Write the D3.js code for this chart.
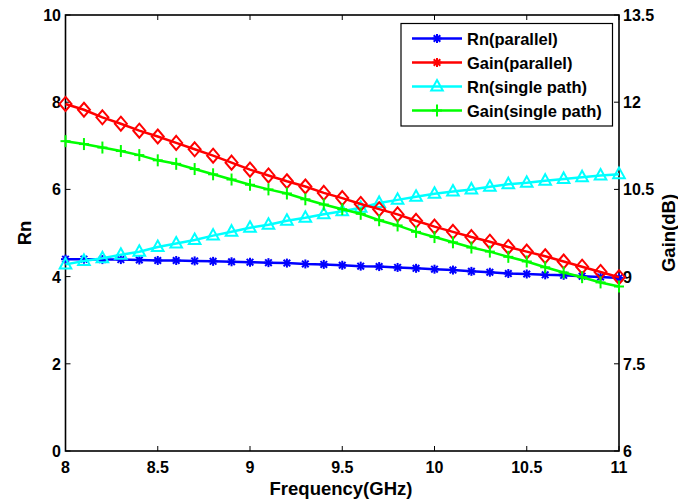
<!DOCTYPE html>
<html><head><meta charset="utf-8">
<script src="https://cdn.jsdelivr.net/npm/d3@7"></script>
<style>body{margin:0;background:#fff}svg{display:block}text{font-family:"Liberation Sans",Arial,sans-serif;font-weight:bold;fill:#000}</style>
</head><body>
<script>
const freq = [8.0,8.1,8.2,8.3,8.4,8.5,8.6,8.7,8.8,8.9,9.0,9.1,9.2,9.3,9.4,9.5,9.6,9.7,9.8,9.9,10.0,10.1,10.2,10.3,10.4,10.5,10.6,10.7,10.8,10.9,11.0];
const rnParallel = [4.40,4.40,4.39,4.39,4.38,4.37,4.37,4.36,4.35,4.34,4.33,4.32,4.31,4.29,4.28,4.26,4.24,4.23,4.21,4.19,4.17,4.15,4.12,4.10,4.07,4.06,4.04,4.03,4.01,3.99,3.97];
const gainParallel = [11.97,11.87,11.74,11.63,11.51,11.41,11.30,11.19,11.08,10.96,10.84,10.74,10.64,10.55,10.44,10.35,10.25,10.16,10.07,9.96,9.86,9.77,9.68,9.60,9.51,9.43,9.35,9.26,9.17,9.08,8.99];
const rnSingle = [4.28,4.36,4.42,4.50,4.57,4.68,4.76,4.84,4.94,5.03,5.12,5.19,5.28,5.35,5.43,5.50,5.58,5.69,5.76,5.83,5.90,5.95,6.00,6.06,6.12,6.15,6.20,6.24,6.28,6.32,6.35];
const gainSingle = [11.33,11.28,11.22,11.16,11.09,11.00,10.94,10.85,10.76,10.67,10.58,10.50,10.43,10.33,10.24,10.16,10.08,9.97,9.88,9.77,9.68,9.59,9.50,9.43,9.34,9.26,9.16,9.07,8.99,8.90,8.83];
const xTicks = [8,8.5,9,9.5,10,10.5,11];
const xTickLabels = ["8","8.5","9","9.5","10","10.5","11"];
const yLeftTicks = [0,2,4,6,8,10];
const yRightTicks = [6,7.5,9,10.5,12,13.5];
const yRightTickLabels = ["6","7.5","9","10.5","12","13.5"];
const legendLabels = ["Rn(parallel)","Gain(parallel)","Rn(single path)","Gain(single path)"];

const W=678,H=503;
const L=65.5,R=619,T=15,B=451;
const svg=d3.select("body").append("svg").attr("width",W).attr("height",H);
const x=d3.scaleLinear().domain([8,11]).range([L,R]);
const yL=d3.scaleLinear().domain([0,10]).range([B,T]);
const yR=d3.scaleLinear().domain([6,13.5]).range([B,T]);

// frame
svg.append("rect").attr("x",L).attr("y",T).attr("width",R-L).attr("height",B-T)
  .attr("fill","none").attr("stroke","#000").attr("stroke-width",1.6);

const tk=5;
const g=svg.append("g").attr("stroke","#000").attr("stroke-width",1);
xTicks.forEach(v=>{
  g.append("line").attr("x1",x(v)).attr("x2",x(v)).attr("y1",B).attr("y2",B-tk);
  g.append("line").attr("x1",x(v)).attr("x2",x(v)).attr("y1",T).attr("y2",T+tk);
});
yLeftTicks.forEach(v=>{
  g.append("line").attr("x1",L).attr("x2",L+tk).attr("y1",yL(v)).attr("y2",yL(v));
});
yRightTicks.forEach(v=>{
  g.append("line").attr("x1",R).attr("x2",R-tk).attr("y1",yR(v)).attr("y2",yR(v));
});
xTicks.forEach((v,i)=>{
  svg.append("text").attr("x",x(v)).attr("y",473).attr("text-anchor","middle")
    .attr("font-size",16).text(xTickLabels[i]);
});
yLeftTicks.forEach(v=>{
  svg.append("text").attr("x",61).attr("y",yL(v)+6).attr("text-anchor","end")
    .attr("font-size",16).text(String(v));
});
yRightTicks.forEach((v,i)=>{
  svg.append("text").attr("x",623).attr("y",yR(v)+6).attr("text-anchor","start")
    .attr("font-size",16).text(yRightTickLabels[i]);
});
svg.append("text").attr("x",341).attr("y",495).attr("text-anchor","middle").attr("font-size",18.5).text("Frequency(GHz)");
svg.append("text").attr("transform","translate(31,233) rotate(-90)").attr("text-anchor","middle").attr("font-size",18.5).text("Rn");
svg.append("text").attr("transform","translate(675,233) rotate(-90)").attr("text-anchor","middle").attr("font-size",18.5).text("Gain(dB)");

// markers
function drawMarker(sel,type,color,cx,cy){
  if(type==="star"){
    const s=4.5,d=3.3;
    const p=sel.append("g").attr("stroke",color).attr("stroke-width",2).attr("fill","none");
    p.append("line").attr("x1",cx-s).attr("x2",cx+s).attr("y1",cy).attr("y2",cy);
    p.append("line").attr("x1",cx).attr("x2",cx).attr("y1",cy-s).attr("y2",cy+s);
    p.append("line").attr("x1",cx-d).attr("x2",cx+d).attr("y1",cy-d).attr("y2",cy+d);
    p.append("line").attr("x1",cx-d).attr("x2",cx+d).attr("y1",cy+d).attr("y2",cy-d);
  } else if(type==="diamond"){
    sel.append("path").attr("d",`M${cx},${cy-7}L${cx+6},${cy}L${cx},${cy+7}L${cx-6},${cy}Z`)
      .attr("fill","none").attr("stroke",color).attr("stroke-width",2);
  } else if(type==="tri"){
    sel.append("path").attr("d",`M${cx},${cy-6.5}L${cx+5.8},${cy+4}L${cx-5.8},${cy+4}Z`)
      .attr("fill","none").attr("stroke",color).attr("stroke-width",2);
  } else if(type==="plus"){
    const p=sel.append("g").attr("stroke",color).attr("stroke-width",2);
    p.append("line").attr("x1",cx-5).attr("x2",cx+5).attr("y1",cy).attr("y2",cy);
    p.append("line").attr("x1",cx).attr("x2",cx).attr("y1",cy-6).attr("y2",cy+6);
  }
}
const series=[
  {vals:rnParallel,y:yL,color:"#0000ff",m:"star"},
  {vals:rnSingle,y:yL,color:"#00ffff",m:"tri"},
  {vals:gainParallel,y:yR,color:"#ff0000",m:"diamond"},
  {vals:gainSingle,y:yR,color:"#00ff00",m:"plus"}
];
series.forEach(s=>{
  const line=d3.line().x((d,i)=>x(freq[i])).y(d=>s.y(d));
  svg.append("path").attr("d",line(s.vals)).attr("fill","none").attr("stroke",s.color).attr("stroke-width",2.5);
  const mg=svg.append("g");
  s.vals.forEach((v,i)=>drawMarker(mg,s.m,s.color,x(freq[i]),s.y(v)));
});

// legend
const lg=svg.append("g");
lg.append("rect").attr("x",401).attr("y",23.5).attr("width",211.5).attr("height",102.5)
  .attr("fill","#fff").attr("stroke","#000").attr("stroke-width",1.2);
const legColors=["#0000ff","#ff0000","#00ffff","#00ff00"];
const legMarkers=["star","star","tri","plus"];
legendLabels.forEach((t,i)=>{
  const yy=38.5+i*24;
  lg.append("line").attr("x1",412).attr("x2",462).attr("y1",yy).attr("y2",yy).attr("stroke",legColors[i]).attr("stroke-width",2.5);
  drawMarker(lg,legMarkers[i],legColors[i],437,yy);
  lg.append("text").attr("x",467).attr("y",yy+6).attr("font-size",16.5).text(t);
});
</script>
</body></html>
